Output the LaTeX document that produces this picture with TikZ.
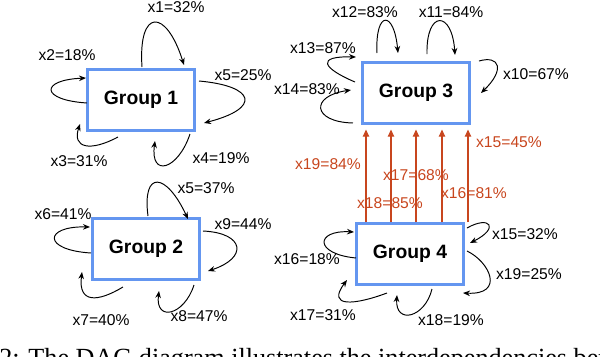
\documentclass[tikz,border=0pt]{standalone}
\usepackage{fontspec}
\setmainfont{Liberation Serif}
\setsansfont{Liberation Sans}
\usetikzlibrary{arrows.meta,calc}
\definecolor{grpblue}{RGB}{100,150,240}
\definecolor{deporange}{RGB}{200,70,30}
\begin{document}
\begin{tikzpicture}[x=0.02cm, y=-0.02cm,
  grp/.style={draw=grpblue, line width=1.7pt, fill=white, minimum width=2.14cm, minimum height=1.22cm, font=\sffamily\bfseries\fontsize{11}{13}\selectfont},
  lbl/.style={inner sep=0pt, font=\sffamily\fontsize{8.9}{10}\selectfont},
  redlbl/.style={lbl, text=deporange},
  selfdep/.style={-{Stealth[length=4pt,width=3.2pt]}, line width=0.55pt},
  crossdep/.style={-{Triangle[length=4pt,width=3.6pt]}, draw=deporange, line width=0.6pt, shorten >=2.6pt}]

\useasboundingbox (0,0) rectangle (600,356);
\clip (0,0) rectangle (600,356);

% Groups
\node[grp] (g1) at (141,100) {Group 1};
\node[grp] (g2) at (146,249) {Group 2};
\node[grp] (g3) at (416,93) {Group 3};
\node[grp] (g4) at (410,254) {Group 4};

% Group 1 self dependencies
\draw[selfdep] ($(g1)+(1,-33)$) .. controls ($(g1)+(-3,-92)$) and ($(g1)+(25,-92)$) .. ($(g1)+(43,-35)$);
\draw[selfdep] ($(g1)+(-54,3)$) .. controls ($(g1)+(-101,0)$) and ($(g1)+(-101,-20)$) .. ($(g1)+(-55,-22)$);
\draw[selfdep] ($(g1)+(-23,37)$) .. controls ($(g1)+(-51,52)$) and ($(g1)+(-69,48)$) .. ($(g1)+(-61,24)$);
\draw[selfdep] ($(g1)+(49,34)$) .. controls ($(g1)+(37,70)$) and ($(g1)+(9,78)$) .. ($(g1)+(14,41)$);
\draw[selfdep] ($(g1)+(58,-19)$) .. controls ($(g1)+(114,-14)$) and ($(g1)+(121,8)$) .. ($(g1)+(63,23)$);
\node[lbl] (p1x1) at (176,7) {x1=32\%};
\node[lbl] (p1x2) at (67,55) {x2=18\%};
\node[lbl] (p1x5) at (243,75) {x5=25\%};
\node[lbl] (p1x3) at (79,161) {x3=31\%};
\node[lbl] (p1x4) at (221,158) {x4=19\%};

% Group 2 self dependencies
\draw[selfdep] ($(g2)+(2,-33)$) .. controls ($(g2)+(-4,-79)$) and ($(g2)+(20,-77)$) .. ($(g2)+(42,-30)$);
\draw[selfdep] ($(g2)+(-55,4)$) .. controls ($(g2)+(-104,1)$) and ($(g2)+(-102,-23)$) .. ($(g2)+(-56,-22)$);
\draw[selfdep] ($(g2)+(-23,38)$) .. controls ($(g2)+(-48,53)$) and ($(g2)+(-68,55)$) .. ($(g2)+(-64,23)$);
\draw[selfdep] ($(g2)+(48,36)$) .. controls ($(g2)+(38,67)$) and ($(g2)+(9,73)$) .. ($(g2)+(13,42)$);
\draw[selfdep] ($(g2)+(57,-18)$) .. controls ($(g2)+(99,-16)$) and ($(g2)+(102,9)$) .. ($(g2)+(62,22)$);
\node[lbl] (p2x5) at (206,188) {x5=37\%};
\node[lbl] (p2x6) at (63,214) {x6=41\%};
\node[lbl] (p2x9) at (243,224) {x9=44\%};
\node[lbl] (p2x7) at (101,320) {x7=40\%};
\node[lbl] (p2x8) at (199,316) {x8=47\%};

% Group 3 self dependencies
\draw[selfdep] ($(g3)+(-39,-40)$) .. controls ($(g3)+(-41,-83)$) and ($(g3)+(-22,-83)$) .. ($(g3)+(-18,-40)$);
\draw[selfdep] ($(g3)+(11,-39)$) .. controls ($(g3)+(10,-83)$) and ($(g3)+(36,-83)$) .. ($(g3)+(39,-38)$);
\draw[selfdep] ($(g3)+(-61,-11)$) .. controls ($(g3)+(-94,-25)$) and ($(g3)+(-100,-37)$) .. ($(g3)+(-60,-36)$);
\draw[selfdep] ($(g3)+(-63,30)$) .. controls ($(g3)+(-104,29)$) and ($(g3)+(-106,3)$) .. ($(g3)+(-65,-3)$);
\draw[selfdep] ($(g3)+(63,-32)$) .. controls ($(g3)+(84,-38)$) and ($(g3)+(89,-23)$) .. ($(g3)+(65,0)$);
\node[lbl] (p3x12) at (365,12) {x12=83\%};
\node[lbl] (p3x11) at (451,12) {x11=84\%};
\node[lbl] (p3x13) at (323,48) {x13=87\%};
\node[lbl] (p3x14) at (307,89) {x14=83\%};
\node[lbl] (p3x10) at (536,74) {x10=67\%};

% Group 4 self dependencies
\draw[selfdep] ($(g4)+(-54,4)$) .. controls ($(g4)+(-96,0)$) and ($(g4)+(-95,-24)$) .. ($(g4)+(-56,-22)$);
\draw[selfdep] ($(g4)+(-23,39)$) .. controls ($(g4)+(-55,51)$) and ($(g4)+(-84,54)$) .. ($(g4)+(-63,26)$);
\draw[selfdep] ($(g4)+(22,35)$) .. controls ($(g4)+(15,64)$) and ($(g4)+(-15,71)$) .. ($(g4)+(-13,41)$);
\draw[selfdep] ($(g4)+(57,-26)$) .. controls ($(g4)+(80,-39)$) and ($(g4)+(90,-26)$) .. ($(g4)+(60,-11)$);
\draw[selfdep] ($(g4)+(57,-3)$) .. controls ($(g4)+(80,8)$) and ($(g4)+(95,41)$) .. ($(g4)+(53,39)$);
\node[lbl] (p4x15) at (525,234) {x15=32\%};
\node[lbl] (p4x16) at (307,259) {x16=18\%};
\node[lbl] (p4x19) at (529,274) {x19=25\%};
\node[lbl] (p4x17) at (323,315) {x17=31\%};
\node[lbl] (p4x18) at (451,320) {x18=19\%};

% Group 4 -> Group 3
\foreach \ax in {366,391,416,442,468}
  \draw[crossdep] (\ax,0 |- g4.north) -- (\ax,0 |- g3.south);
\node[redlbl] (c15) at (509,142) {x15=45\%};
\node[redlbl] (c19) at (328,164) {x19=84\%};
\node[redlbl] (c17) at (416,175) {x17=68\%};
\node[redlbl] (c16) at (474,193) {x16=81\%};
\node[redlbl] (c18) at (390,203) {x18=85\%};

% caption, cut by the frame
\node[anchor=north west, inner sep=0pt, font=\fontsize{14.9}{17}\selectfont] (cap) at (-1,348) {2: The DAG diagram illustrates the interdependencies bet};

\end{tikzpicture}
\end{document}
